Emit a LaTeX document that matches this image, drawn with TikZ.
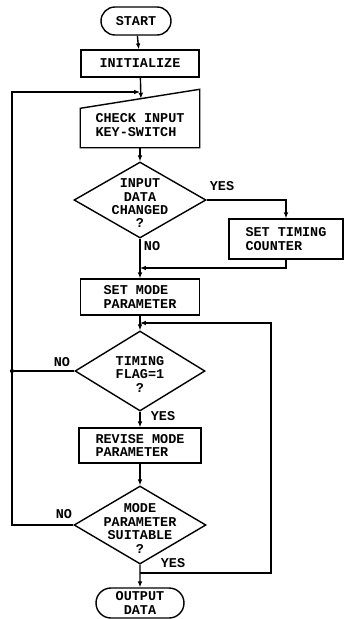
\documentclass[tikz,border=0pt]{standalone}
\usepackage{fontspec}
\setmainfont{Liberation Mono}
\usetikzlibrary{shapes.geometric,shapes.misc,arrows.meta,calc}

\tikzset{
  box/.style={rectangle,draw,very thick,align=left,inner sep=0pt},
  term/.style={rounded rectangle,draw,very thick,align=center,inner sep=0pt},
  test/.style={diamond,draw,very thick,inner sep=0pt},
  flow/.style={very thick,-{Latex[length=5pt,width=4pt]}},
  line/.style={very thick},
  tag/.style={inner sep=0pt},
}

\begin{document}
\begin{tikzpicture}[x=0.03cm,y=-0.03cm,font=\fontsize{11.5}{11.5}\selectfont\bfseries]
\useasboundingbox (0,0) rectangle (344,619);
\node [term,minimum width=2.1cm,minimum height=0.84cm] (start) at (136,21) {START};
\node [box,minimum width=3.54cm,minimum height=0.81cm] (init) at (140,63.5) {INITIALIZE};
\node [box,draw=none,minimum width=3.54cm,minimum height=1.32cm] (chk) at (140,125) {CHECK INPUT\\KEY-SWITCH};
\draw [line] (chk.south west) -- (chk.south east) -- ([yshift=0.39cm]chk.north east)
  -- ([yshift=-0.18cm]chk.north west) -- cycle;
\coordinate (chktop) at ($([yshift=-0.18cm]chk.north west)!0.508!([yshift=0.39cm]chk.north east)$);
\node [test,minimum width=3.96cm,minimum height=2.28cm,
  label={[align=center,yshift=-0.1cm]center:{INPUT\\DATA\\CHANGED\\?}}] (d1) at (140,200) {};
\node [box,minimum width=3.42cm,minimum height=1.2cm] (stc) at (286,239) {SET TIMING\\COUNTER};
\node [box,minimum width=3.57cm,minimum height=1.08cm] (smp) at (140,297) {SET MODE \\PARAMETER};
\node [test,minimum width=3.9cm,minimum height=2.4cm,
  label={[align=center,yshift=-0.1cm]center:{TIMING\\FLAG=1\\?}}] (d2) at (140,371) {};
\node [box,minimum width=3.66cm,minimum height=1.05cm] (rmp) at (140,445.5) {REVISE MODE\\PARAMETER};
\node [test,minimum width=3.96cm,minimum height=2.34cm,
  label={[align=center,yshift=-0.1cm]center:{MODE\\PARAMETER\\SUITABLE\\?}}] (d3) at (140,525) {};
\node [term,minimum width=2.64cm,minimum height=0.9cm] (out) at (140,603) {OUTPUT\\DATA};

% joints
\coordinate (j0) at (140,92);
\coordinate (j1) at (140,268);
\coordinate (j2) at (140,323);
\coordinate (j3) at (140,573);
\coordinate (lft) at (12,92);
\coordinate (dot) at (12,371);
\coordinate (rgt) at (271,323);

\draw [flow] (start) -- (init);
\draw [flow] (init) -- (chktop);
\draw [flow] (chk) -- (d1);
\draw [flow] (d1.east) -| (stc.north);
\node [tag] (yes1) at (222,186) {YES};
\draw [flow] (d1) -- (smp);
\node [tag] (no1) at (152,246) {NO};
\draw [flow] (stc.south) |- (j1);
\draw [flow] (smp) -- (d2);
\draw [line] (d2.west) -- (dot);
\fill (dot) circle (1.8pt);
\node [tag] (no2) at (62,362) {NO};
\draw [flow] (d2) -- (rmp);
\node [tag] (yes2) at (163,416) {YES};
\draw [flow] (rmp) -- (d3);
\draw [flow] (d3.west) -| (lft) -- (j0);
\node [tag] (no3) at (64,514) {NO};
\draw [flow] (d3) -- (out);
\node [tag] (yes3) at (173,563) {YES};
\draw [flow] (j3) -| (rgt) -- (j2);
\end{tikzpicture}
\end{document}
